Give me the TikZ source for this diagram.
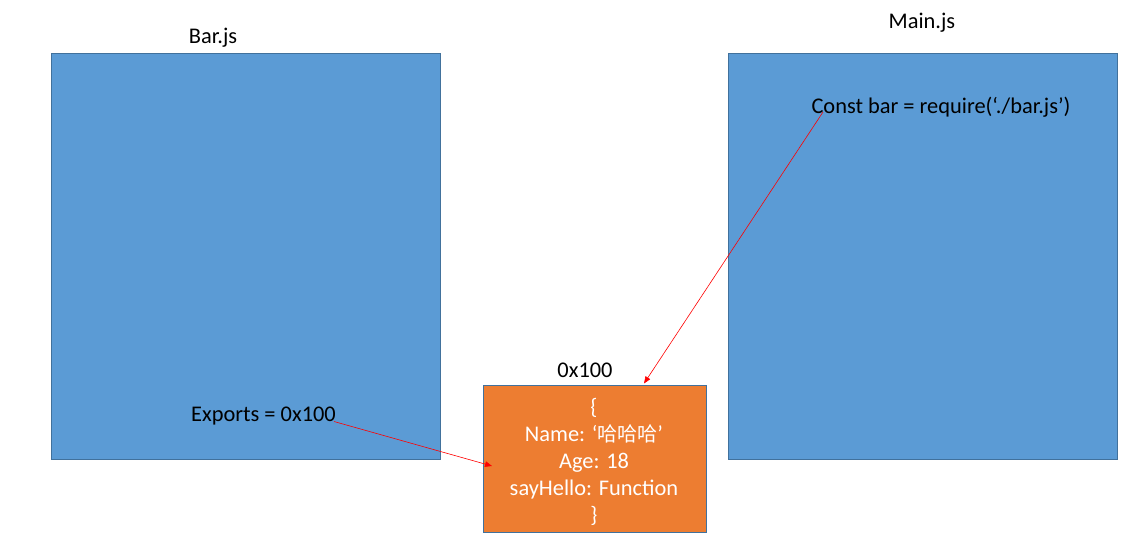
\documentclass[tikz,border=0pt]{standalone}
\usepackage{fontspec}
\setmainfont{Carlito}
\newfontfamily\cjk{Noto Sans CJK SC}
\usetikzlibrary{arrows.meta}
\definecolor{boxblue}{HTML}{5B9BD5}
\definecolor{boxorange}{HTML}{ED7D31}
\definecolor{edgeblue}{HTML}{41719C}
\definecolor{arrowred}{HTML}{FF0000}
\tikzset{
  bluebox/.style={draw=edgeblue, fill=boxblue, line width=0.8pt, inner sep=0pt, outer sep=0pt, anchor=north west},
  orangebox/.style={draw=edgeblue, fill=boxorange, line width=0.8pt, inner sep=0pt, outer sep=0pt, anchor=north west},
  objtext/.style={inner sep=0pt, text=white, align=center, font=\fontsize{22.4}{27}\selectfont, anchor=center},
  lbl/.style={inner sep=0pt, anchor=base, font=\fontsize{22.4}{27}\selectfont},
  link/.style={draw=arrowred, line width=0.6pt, -{Triangle[length=7pt,width=5.5pt]}}
}
\begin{document}
\begin{tikzpicture}[x=1pt,y=-1pt]
\useasboundingbox (0,0) rectangle (1133,544);
\fill[white] (0,0) rectangle (1133,544);
\node[bluebox, minimum width=389pt, minimum height=406pt] (bar) at (51,53) {};
\node[bluebox, minimum width=389pt, minimum height=406pt] (main) at (728,53) {};
\node[orangebox, minimum width=223pt, minimum height=147pt] (obj) at (483,385) {};
\node[objtext] (objtxt) at (594,461.5)
  {\{\\Name: ‘{\cjk\fontsize{20}{27}\selectfont 哈哈哈}’\\Age: 18\\sayHello: Function\\\}};
\node[lbl] (barlbl) at (213,43) {Bar.js};
\node[lbl] (mainlbl) at (922,28) {Main.js};
\node[lbl] (addr) at (585,377) {0x100};
\node[lbl] (exports) at (263.5,421) {Exports = 0x100};
\node[lbl] (req) at (941,113) {Const bar = require(‘./bar.js’)};
\coordinate (exportsend) at (334,421.5);
\coordinate (reqstart) at (823,112);
\coordinate (objleft) at (492,466);
\coordinate (objtop) at (644,383.5);
\draw[link] (exportsend) -- (objleft);
\draw[link] (reqstart) -- (objtop);
\end{tikzpicture}
\end{document}
